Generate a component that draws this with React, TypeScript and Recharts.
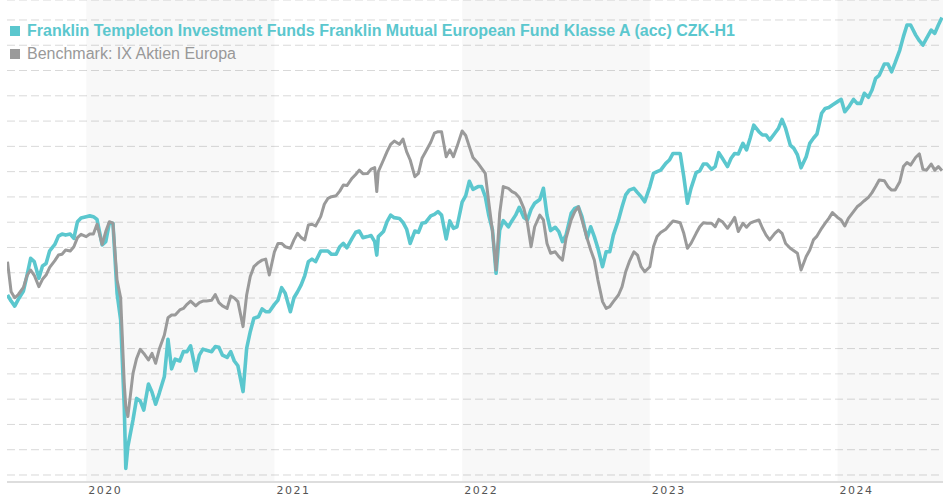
import React from 'react';
import { LineChart, Line, XAxis, YAxis, CartesianGrid, ReferenceArea } from 'recharts';

const FUND_NAME = 'Franklin Templeton Investment Funds Franklin Mutual European Fund Klasse A (acc) CZK-H1';
const BENCH_NAME = 'Benchmark: IX Aktien Europa';

const dates: string[] = [
  '2019-08-01','2019-08-08','2019-08-15','2019-08-22',
  '2019-09-01','2019-09-08','2019-09-15','2019-09-22',
  '2019-10-01','2019-10-08','2019-10-15','2019-10-22',
  '2019-11-01','2019-11-08','2019-11-15','2019-11-22',
  '2019-12-01','2019-12-08','2019-12-15','2019-12-22',
  '2020-01-01','2020-01-08','2020-01-15','2020-01-22',
  '2020-02-01','2020-02-08','2020-02-15','2020-02-22',
  '2020-03-01','2020-03-08','2020-03-15','2020-03-18','2020-03-22',
  '2020-04-01','2020-04-08','2020-04-15','2020-04-22',
  '2020-05-01','2020-05-08','2020-05-15','2020-05-22',
  '2020-06-01','2020-06-08','2020-06-15','2020-06-22',
  '2020-07-01','2020-07-08','2020-07-15','2020-07-22',
  '2020-08-01','2020-08-08','2020-08-15','2020-08-22',
  '2020-09-01','2020-09-08','2020-09-15','2020-09-22',
  '2020-10-01','2020-10-08','2020-10-15','2020-10-22',
  '2020-11-01','2020-11-08','2020-11-15','2020-11-22',
  '2020-12-01','2020-12-08','2020-12-15','2020-12-22',
  '2021-01-01','2021-01-08','2021-01-15','2021-01-22',
  '2021-02-01','2021-02-08','2021-02-15','2021-02-22',
  '2021-03-01','2021-03-08','2021-03-15','2021-03-22',
  '2021-04-01','2021-04-08','2021-04-15','2021-04-22',
  '2021-05-01','2021-05-08','2021-05-15','2021-05-22',
  '2021-06-01','2021-06-08','2021-06-15','2021-06-22',
  '2021-07-01','2021-07-08','2021-07-15','2021-07-19','2021-07-22',
  '2021-08-01','2021-08-08','2021-08-15','2021-08-22',
  '2021-09-01','2021-09-08','2021-09-15','2021-09-22',
  '2021-10-01','2021-10-08','2021-10-15','2021-10-22',
  '2021-11-01','2021-11-08','2021-11-15','2021-11-22',
  '2021-12-01','2021-12-08','2021-12-15','2021-12-22',
  '2022-01-01','2022-01-08','2022-01-15','2022-01-22',
  '2022-02-01','2022-02-08','2022-02-15','2022-02-22',
  '2022-03-01','2022-03-08','2022-03-15','2022-03-22',
  '2022-04-01','2022-04-08','2022-04-15','2022-04-22',
  '2022-05-01','2022-05-08','2022-05-15','2022-05-22',
  '2022-06-01','2022-06-08','2022-06-15','2022-06-22',
  '2022-07-01','2022-07-08','2022-07-15','2022-07-22',
  '2022-08-01','2022-08-08','2022-08-15','2022-08-22',
  '2022-09-01','2022-09-08','2022-09-15','2022-09-22',
  '2022-10-01','2022-10-08','2022-10-15','2022-10-22',
  '2022-11-01','2022-11-08','2022-11-15','2022-11-22',
  '2022-12-01','2022-12-08','2022-12-15','2022-12-22',
  '2023-01-01','2023-01-08','2023-01-15','2023-01-22',
  '2023-02-01','2023-02-08','2023-02-15','2023-02-22',
  '2023-03-01','2023-03-08','2023-03-15','2023-03-22',
  '2023-04-01','2023-04-08','2023-04-15','2023-04-22',
  '2023-05-01','2023-05-08','2023-05-15','2023-05-22',
  '2023-06-01','2023-06-08','2023-06-15','2023-06-22',
  '2023-07-01','2023-07-08','2023-07-15','2023-07-22',
  '2023-08-01','2023-08-08','2023-08-15','2023-08-22',
  '2023-09-01','2023-09-08','2023-09-15','2023-09-22',
  '2023-10-01','2023-10-08','2023-10-15','2023-10-22',
  '2023-11-01','2023-11-08','2023-11-15','2023-11-22',
  '2023-12-01','2023-12-08','2023-12-15','2023-12-22',
  '2024-01-01','2024-01-08','2024-01-15','2024-01-22',
  '2024-02-01','2024-02-08','2024-02-15','2024-02-22',
  '2024-03-01','2024-03-08','2024-03-15','2024-03-22',
  '2024-04-01','2024-04-08','2024-04-15','2024-04-22',
  '2024-05-01','2024-05-08','2024-05-15','2024-05-22',
  '2024-06-01','2024-06-08','2024-06-15','2024-06-22',
  '2024-07-01','2024-07-08','2024-07-15','2024-07-22',
];

const fundValues: number[] = [
  151.2, 148.8, 146.8, 149.5,
  152.8, 159.1, 165.7, 164.4,
  157.8, 162.7, 163.7, 168.7,
  171.2, 174.5, 175.3, 174.9,
  175.3, 173.6, 180.2, 181.7,
  182.2, 182.5, 182.2, 181.1,
  171.0, 172.3, 179.6, 179.6,
  151.9, 141.3, 107.0, 82.6, 91.2,
  101.8, 110.3, 109.3, 105.7,
  116.0, 112.7, 108.0, 112.3,
  119.0, 133.7, 122.0, 125.8,
  125.1, 128.8, 128.8, 131.1,
  121.2, 127.4, 129.8, 129.3,
  128.8, 130.8, 130.5, 127.4,
  126.5, 128.8, 125.1, 123.2,
  113.0, 130.1, 136.7, 142.0,
  142.6, 145.7, 144.6, 144.6,
  147.5, 149.2, 154.1, 151.9,
  144.6, 150.1, 152.5, 155.2,
  158.9, 164.4, 165.4, 164.4,
  168.6, 168.6, 168.6, 167.3,
  167.3, 170.3, 171.6, 169.9,
  173.6, 176.0, 176.5, 173.9,
  174.3, 174.7, 172.3, 167.0, 174.3,
  176.3, 180.2, 182.8, 181.8,
  181.5, 179.9, 177.3, 171.6,
  176.5, 176.0, 179.6, 179.9,
  182.5, 183.1, 184.2, 182.8,
  173.4, 180.5, 177.6, 178.2,
  187.9, 190.5, 196.2, 193.0,
  194.1, 194.1, 190.1, 182.5,
  176.9, 159.8, 176.9, 180.6,
  178.2, 180.6, 182.8, 185.9,
  181.9, 180.9, 185.1, 187.5,
  189.0, 193.4, 182.8, 176.7,
  178.0, 176.3, 172.3, 174.9,
  183.5, 185.5, 186.1, 182.2,
  173.6, 178.2, 174.3, 169.7,
  162.4, 168.3, 168.3, 174.9,
  180.9, 186.1, 190.8, 192.7,
  193.4, 191.7, 190.1, 188.1,
  194.1, 199.3, 200.0, 200.6,
  203.3, 204.6, 207.2, 207.2,
  207.2, 198.0, 187.5, 193.4,
  199.6, 200.3, 203.0, 203.0,
  200.9, 202.0, 207.5, 205.3,
  202.0, 205.3, 207.2, 207.0,
  211.2, 208.6, 213.2, 218.4,
  215.8, 214.5, 214.5, 212.5,
  215.2, 217.1, 220.7, 217.1,
  210.5, 209.2, 206.6, 201.5,
  205.9, 211.2, 213.2, 214.9,
  223.1, 225.0, 225.4, 226.4,
  227.7, 228.6, 223.7, 225.4,
  228.6, 227.0, 227.0, 231.0,
  229.4, 232.3, 236.9, 238.1,
  242.6, 242.6, 239.5, 243.1,
  248.1, 253.4, 258.0, 258.0,
  254.0, 251.8, 250.1, 252.7,
  256.0, 254.7, 258.0, 261.0,
];

const benchValues: number[] = [
  164.4, 152.5, 150.1, 151.4,
  154.2, 158.9, 161.1, 159.0,
  154.5, 157.4, 159.1, 162.1,
  164.8, 167.0, 167.3, 169.0,
  168.6, 170.3, 173.9, 175.2,
  174.3, 175.3, 175.3, 179.2,
  171.2, 176.3, 180.2, 179.6,
  157.1, 150.1, 116.3, 107.0, 103.1,
  120.2, 126.1, 129.7, 128.1,
  125.5, 128.1, 124.2, 129.7,
  135.4, 142.2, 143.3, 143.3,
  145.3, 145.9, 147.5, 148.8,
  146.9, 148.2, 148.8, 148.8,
  149.1, 151.4, 148.2, 146.9,
  145.9, 150.8, 150.0, 148.6,
  138.7, 151.2, 158.5, 162.4,
  164.1, 165.0, 165.4, 159.1,
  168.3, 171.6, 171.6, 170.3,
  169.7, 173.0, 175.6, 173.9,
  173.0, 178.9, 179.2, 178.5,
  182.2, 187.1, 189.4, 190.1,
  190.5, 192.3, 194.7, 194.5,
  197.4, 198.9, 200.6, 199.2,
  199.3, 201.0, 201.6, 192.1, 200.0,
  204.6, 207.9, 210.8, 212.1,
  210.8, 212.9, 207.9, 204.6,
  198.0, 199.3, 205.3, 207.9,
  211.6, 215.2, 215.8, 215.8,
  205.9, 208.6, 205.9, 209.9,
  216.1, 214.3, 209.9, 205.6,
  203.3, 201.3, 199.3, 187.5,
  176.3, 161.1, 183.5, 194.1,
  193.4, 192.1, 191.4, 189.8,
  185.5, 179.6, 170.3, 178.2,
  182.8, 180.9, 171.6, 167.7,
  168.3, 166.4, 165.0, 173.6,
  180.9, 184.2, 186.1, 180.9,
  173.6, 169.0, 165.0, 157.1,
  148.6, 145.9, 146.6, 148.6,
  151.2, 154.5, 160.4, 164.4,
  168.3, 167.0, 162.4, 160.4,
  162.4, 170.3, 174.3, 175.9,
  177.2, 178.9, 180.5, 180.2,
  179.8, 175.6, 169.7, 171.6,
  175.6, 178.2, 179.8, 179.6,
  179.6, 178.2, 181.1, 180.2,
  177.6, 179.6, 181.9, 176.3,
  179.6, 178.0, 179.6, 180.2,
  180.9, 177.6, 174.9, 173.0,
  175.6, 176.9, 175.6, 171.6,
  169.7, 168.7, 167.7, 161.1,
  166.4, 169.0, 173.0, 174.5,
  177.6, 179.6, 181.5, 183.8,
  181.9, 180.9, 178.5, 181.5,
  184.2, 186.1, 187.2, 188.5,
  189.8, 191.7, 194.1, 196.7,
  196.4, 194.1, 192.7, 192.7,
  196.0, 202.0, 203.6, 202.6,
  205.7, 207.0, 200.9, 200.6,
  203.0, 200.6, 202.0, 200.4,
];

const yearTicks: string[] = ['2020-01-01', '2021-01-01', '2022-01-01', '2023-01-01', '2024-01-01'];
const shadedYears: string[][] = [
  ['2020-01-01', '2021-01-01'],
  ['2022-01-01', '2023-01-01'],
  ['2024-01-01', '2024-07-24'],
];
const xDomain: string[] = ['2019-07-31', '2024-07-24'];
const yDomain: number[] = [77.23, 267.9];
const gridValues: number[] = [80, 90, 100, 110, 120, 130, 140, 150, 160, 170, 180, 190, 200, 210, 220, 230, 240, 250, 260];

const TEAL = '#5bc7ce';
const GRAY = '#9a9a9a';

const ts = (d: string) => Date.parse(d);

const data = dates.map((d, i) => ({ t: ts(d), fund: fundValues[i], bench: benchValues[i] }));

const YearTick = (props: any) => {
  const { x, y, payload } = props;
  return (
    <text
      x={x + 2}
      y={y + 3.5}
      fill="#555"
      fontSize={11}
      fontFamily="'DejaVu Sans', Verdana, sans-serif"
      letterSpacing={1.5}
    >
      {new Date(payload.value).getUTCFullYear()}
    </text>
  );
};

export default function App() {
  return (
    <div style={{ position: 'absolute', left: 0, top: 0, width: 943, height: 500, background: '#fff' }}>
      <LineChart width={943} height={500} data={data} margin={{ top: 0, right: 0, bottom: 0, left: 7 }}>
        {shadedYears.map(([a, b]) => (
          <ReferenceArea key={a} x1={ts(a)} x2={ts(b)} fill="#000" fillOpacity={0.027} stroke="none" ifOverflow="hidden" />
        ))}
        <CartesianGrid vertical={false} stroke="#d9d9d9" strokeDasharray="8 4" />
        <XAxis
          dataKey="t"
          type="number"
          domain={[ts(xDomain[0]), ts(xDomain[1])]}
          ticks={yearTicks.map(ts)}
          tick={<YearTick />}
          tickLine={false}
          axisLine={{ stroke: '#dddddd', strokeWidth: 2 }}
          height={18}
          allowDataOverflow
        />
        <YAxis hide domain={yDomain} ticks={gridValues} allowDataOverflow />
        <Line type="linear" dataKey="fund" stroke={TEAL} strokeWidth={3.6} strokeLinejoin="round" dot={false} isAnimationActive={false} />
        <Line type="linear" dataKey="bench" stroke={GRAY} strokeWidth={3} strokeLinejoin="round" dot={false} isAnimationActive={false} />
      </LineChart>
      <svg width={943} height={70} style={{ position: 'absolute', left: 0, top: 0, pointerEvents: 'none' }}>
        <rect x={10} y={26} width={10} height={10} fill={TEAL} />
        <text x={27} y={35.5} fontFamily="'Liberation Sans', Arial, sans-serif" fontSize={16} fontWeight="bold" fill={TEAL}>
          {FUND_NAME}
        </text>
        <rect x={10} y={49} width={10} height={10} fill={GRAY} />
        <text x={27} y={59} fontFamily="'Liberation Sans', Arial, sans-serif" fontSize={16} fill="#999">
          {BENCH_NAME}
        </text>
      </svg>
    </div>
  );
}
